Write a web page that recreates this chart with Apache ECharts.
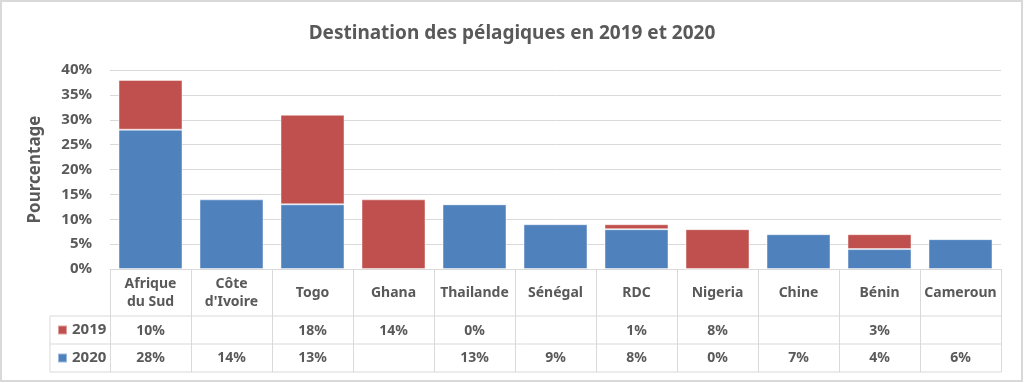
<!DOCTYPE html>
<html>
<head>
<meta charset="utf-8">
<script src="https://cdn.jsdelivr.net/npm/echarts@6/dist/echarts.min.js"></script>
<style>html,body{margin:0;padding:0;background:#fff;}#c{width:1024px;height:383px;}</style>
</head>
<body>
<div id="c"></div>
<script>
const categories = ['Afrique\ndu Sud', "Côte\nd'Ivoire", 'Togo', 'Ghana', 'Thailande', 'Sénégal', 'RDC', 'Nigeria', 'Chine', 'Bénin', 'Cameroun'];
const values2019 = [10, null, 18, 14, 0, null, 1, 8, null, 3, null];
const values2020 = [28, 14, 13, null, 13, 9, 8, 0, 7, 4, 6];
const yTicks = [0, 5, 10, 15, 20, 25, 30, 35, 40];

const FONT = 'Noto Sans';
const TXT = '#595959';
const LINE = '#d9d9d9';
const GL = 110, GR = 1001, GT = 70, GB = 269;
const R1 = 316, R2 = 344, R3 = 372, TL = 50;

const chart = echarts.init(document.getElementById('c'), null, {renderer: 'canvas'});
const fmt = v => (v === null || v === undefined) ? '' : v + '%';

const tableAxis = (arr, margin) => ({
  type: 'category', data: categories, position: 'bottom', gridIndex: 0,
  axisLine: {show: false}, axisTick: {show: false},
  axisLabel: {
    interval: 0, margin: margin, verticalAlign: 'middle',
    color: TXT, fontFamily: FONT, fontWeight: 'bold', fontSize: 14,
    formatter: (val, idx) => fmt(arr[idx])
  }
});

chart.setOption({
  animation: false,
  textStyle: {fontFamily: FONT},
  title: {
    text: 'Destination des pélagiques en 2019 et 2020',
    left: 'center', top: 19,
    textStyle: {color: TXT, fontFamily: FONT, fontWeight: 'bold', fontSize: 19}
  },
  legend: {
    data: ['2019', '2020'], orient: 'vertical', left: 57, top: 322, padding: 0,
    itemWidth: 9, itemHeight: 9, itemGap: 12, icon: 'rect',
    textStyle: {color: TXT, fontFamily: FONT, fontWeight: 'bold', fontSize: 15, lineHeight: 16}
  },
  grid: {left: GL, right: 1024 - GR, top: GT, bottom: 383 - GB, containLabel: false},
  xAxis: [
    {
      type: 'category', data: categories, position: 'bottom',
      axisLine: {show: true, lineStyle: {color: LINE, width: 1}},
      axisTick: {show: true, length: R3 - GB, lineStyle: {color: LINE}},
      axisLabel: {
        interval: 0, margin: 24, verticalAlign: 'middle', lineHeight: 18,
        color: TXT, fontFamily: FONT, fontWeight: 'bold', fontSize: 14
      }
    },
    tableAxis(values2019, 62),
    tableAxis(values2020, 89)
  ],
  yAxis: {
    type: 'value', min: 0, max: 40, interval: 5,
    name: 'Pourcentage', nameLocation: 'middle', nameRotate: 90, nameGap: 66,
    nameTextStyle: {color: TXT, fontFamily: FONT, fontWeight: 'bold', fontSize: 17},
    axisLine: {show: false}, axisTick: {show: false},
    axisLabel: {
      margin: 18, color: TXT, fontFamily: FONT, fontWeight: 'bold', fontSize: 15,
      formatter: v => yTicks.includes(v) ? v + '%' : ''
    },
    splitLine: {lineStyle: {color: LINE, width: 1}}
  },
  series: [
    {
      name: '2020', type: 'bar', stack: 'total', data: values2020, xAxisIndex: 0,
      barCategoryGap: '21%',
      itemStyle: {color: '#4f81bd', borderColor: 'rgba(255,255,255,0.45)', borderWidth: 1}
    },
    {
      name: '2019', type: 'bar', stack: 'total', data: values2019, xAxisIndex: 0,
      barCategoryGap: '21%',
      itemStyle: {color: '#c0504d', borderColor: 'rgba(255,255,255,0.45)', borderWidth: 1}
    }
  ],
  graphic: [
    {type: 'rect', shape: {x: 1, y: 1, width: 1021, height: 380}, style: {fill: 'none', stroke: LINE, lineWidth: 2}, silent: true},
    {type: 'line', shape: {x1: TL, y1: R1, x2: GR, y2: R1}, style: {stroke: LINE, lineWidth: 1}, silent: true},
    {type: 'line', shape: {x1: TL, y1: R2, x2: GR, y2: R2}, style: {stroke: LINE, lineWidth: 1}, silent: true},
    {type: 'line', shape: {x1: TL, y1: R3, x2: GR, y2: R3}, style: {stroke: LINE, lineWidth: 1}, silent: true},
    {type: 'line', shape: {x1: TL, y1: R1, x2: TL, y2: R3}, style: {stroke: LINE, lineWidth: 1}, silent: true}
  ]
});
</script>
</body>
</html>
